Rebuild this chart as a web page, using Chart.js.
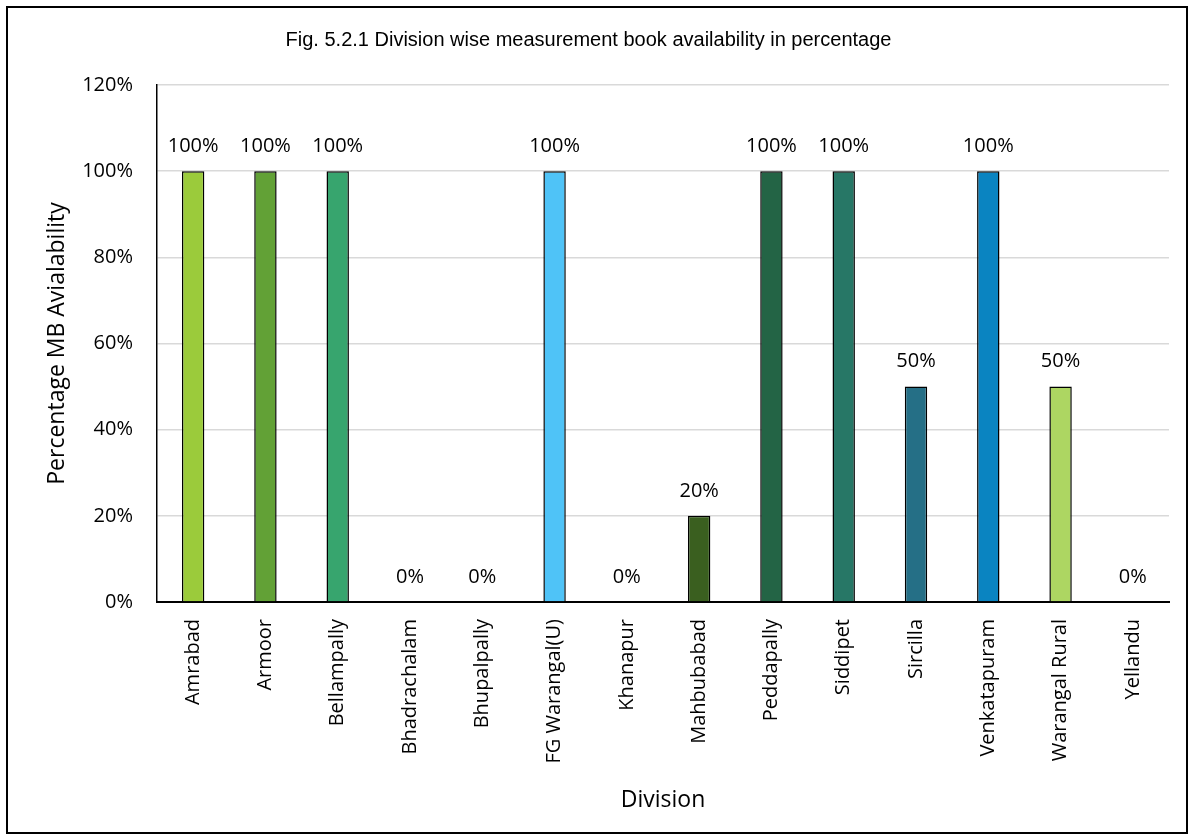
<!DOCTYPE html>
<html>
<head>
<meta charset="utf-8">
<title>Division wise measurement book availability</title>
<script src="https://cdn.jsdelivr.net/npm/chart.js@4.4.1/dist/chart.umd.min.js"></script>
<style>
  html, body { margin: 0; padding: 0; background: #fff; }
  #frame {
    position: absolute;
    left: 6px;
    top: 6px;
    width: 1178px;
    height: 824px;
    border: 2px solid #000;
  }
</style>
</head>
<body>
<div id="frame"><canvas id="barChart"></canvas></div>
<script>
var divisions = [
  'Amrabad', 'Armoor', 'Bellampally', 'Bhadrachalam', 'Bhupalpally',
  'FG Warangal(U)', 'Khanapur', 'Mahbubabad', 'Peddapally', 'Siddipet',
  'Sircilla', 'Venkatapuram', 'Warangal Rural', 'Yellandu'
]
var availability = [100, 100, 100, 0, 0, 100, 0, 20, 100, 100, 50, 100, 50, 0]
var yTicks = [0, 20, 40, 60, 80, 100, 120]

var barColors = [
  '#9bcb3b', '#62a136', '#37a56e', '#7f7f7f', '#7f7f7f',
  '#4fc3f7', '#7f7f7f', '#3a5f1f', '#236445', '#277766',
  '#256f86', '#0a84c1', '#add662', '#7f7f7f'
]

// draws "100%" etc. above each bar
var valueLabels = {
  id: 'valueLabels',
  afterDatasetsDraw: function (chart) {
    var ctx = chart.ctx
    var meta = chart.getDatasetMeta(0)
    ctx.save()
    ctx.font = '20px "Open Sans"'
    ctx.fillStyle = '#000'
    ctx.textAlign = 'center'
    ctx.textBaseline = 'middle'
    meta.data.forEach(function (bar, i) {
      ctx.fillText(availability[i] + '%', bar.x, bar.y - 25)
    })
    ctx.restore()
  }
}

var barChartCanvas = document.getElementById('barChart').getContext('2d')

var barChart = new Chart(barChartCanvas, {
  type: 'bar',
  data: {
    labels: divisions,
    datasets: [{
      label: 'Percentage MB Avialability',
      data: availability,
      backgroundColor: barColors,
      borderColor: '#000',
      borderWidth: function (c) { return c.raw === 0 ? 0 : 1.5 },
      barPercentage: 0.31,
      categoryPercentage: 1
    }]
  },
  options: {
    responsive: true,
    maintainAspectRatio: false,
    animation: false,
    layout: { padding: { left: 0, right: 17, top: 0, bottom: 14 } },
    plugins: {
      legend: { display: false },
      tooltip: { enabled: false },
      title: {
        display: true,
        text: 'Fig. 5.2.1 Division wise measurement book availability in percentage',
        color: '#000',
        font: { family: '"Liberation Sans", Arial, sans-serif', size: 20, weight: 'normal' },
        padding: { top: 20, bottom: 33 }
      }
    },
    scales: {
      x: {
        grid: { display: false },
        border: { display: true, color: '#000', width: 2 },
        ticks: {
          color: '#000',
          font: { family: '"Open Sans"', size: 20 },
          minRotation: 90,
          maxRotation: 90,
          padding: 9,
          autoSkip: false
        },
        title: {
          display: true,
          text: 'Division',
          color: '#000',
          font: { family: '"Open Sans"', size: 23 },
          padding: { top: 4, bottom: 4 }
        },
        afterFit: function (scale) { scale.height = 216 }
      },
      y: {
        min: 0,
        max: yTicks[yTicks.length - 1],
        afterBuildTicks: function (scale) {
          scale.ticks = yTicks.map(function (v) { return { value: v } })
        },
        grid: { color: '#d9d9d9', lineWidth: 1.5, drawTicks: false },
        border: { display: true, color: '#000', width: 1.5 },
        ticks: {
          color: '#000',
          font: { family: '"Open Sans"', size: 20 },
          padding: 24,
          callback: function (value) { return value + '%' }
        },
        title: {
          display: true,
          text: 'Percentage MB Avialability',
          color: '#000',
          font: { family: '"Open Sans"', size: 23 },
          padding: { top: 36, bottom: 4 }
        },
        afterFit: function (scale) { scale.width = 149 }
      }
    }
  },
  plugins: [valueLabels]
})
</script>
</body>
</html>
